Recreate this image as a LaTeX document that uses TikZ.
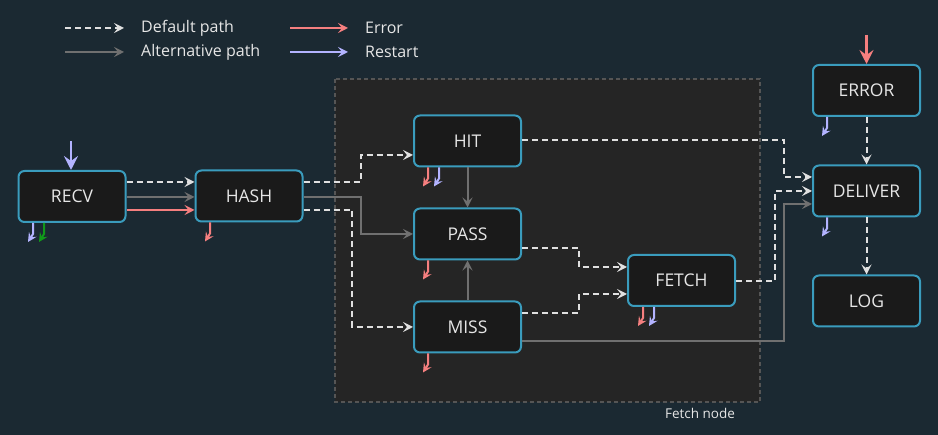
\documentclass[tikz,border=0pt]{standalone}
\usepackage{fontspec}
\setmainfont{Open Sans}
\usetikzlibrary{arrows.meta}
\definecolor{bg}{HTML}{1B2932}
\definecolor{clusterfill}{HTML}{252525}
\definecolor{clusterline}{HTML}{555555}
\definecolor{boxfill}{HTML}{1A1A1A}
\definecolor{boxline}{HTML}{3A9CBD}
\definecolor{txt}{HTML}{E6E6E6}
\definecolor{defc}{HTML}{E0E0E0}
\definecolor{altc}{HTML}{707070}
\definecolor{errc}{HTML}{F57F7F}
\definecolor{rstc}{HTML}{B3B3FF}
\definecolor{grnc}{HTML}{11991A}
\tikzset{
  box/.style={draw=boxline, line width=2pt, fill=boxfill, rounded corners=6pt,
    minimum width=107pt, minimum height=51pt, text=txt, font=\fontsize{17.5}{20}\selectfont},
  tip/.style={-{Stealth[length=10pt,width=10pt,inset=4pt]}},
  def/.style={tip, draw=defc, line width=2pt, dash pattern=on 6pt off 4pt},
  alt/.style={tip, draw=altc, line width=2pt},
  err/.style={tip, draw=errc, line width=2pt},
  rst/.style={tip, draw=rstc, line width=2pt},
  bigtip/.style={-{Stealth[length=14pt,width=14pt,inset=5pt]}, line width=2.6pt},
  stubtip/.style={-{Stealth[length=9pt,width=9pt,inset=3.5pt]}, line width=2pt},
  lbl/.style={text=txt, anchor=west, font=\fontsize{16}{18}\selectfont, inner sep=0pt},
}
\begin{document}
\begin{tikzpicture}[x=1pt, y=-1pt]
\fill[bg] (0,0) rectangle (938,435);
\useasboundingbox (0,0) rectangle (938,435);
% cluster
\draw[clusterline, fill=clusterfill, line width=1.3pt, dash pattern=on 4pt off 3pt] (335,79) rectangle (760,402);
\node[text=txt, font=\fontsize{13.5}{15}\selectfont, inner sep=0pt] (clabel) at (700,413) {Fetch node};
% legend
\coordinate (l1a) at (65,28); \coordinate (l1b) at (124,28);
\coordinate (l2a) at (65,52); \coordinate (l2b) at (124,52);
\coordinate (l3a) at (290,28); \coordinate (l3b) at (348,28);
\coordinate (l4a) at (290,52); \coordinate (l4b) at (348,52);
\draw[def] (l1a) -- (l1b);
\draw[alt] (l2a) -- (l2b);
\draw[err] (l3a) -- (l3b);
\draw[rst] (l4a) -- (l4b);
\node[lbl] (t1) at (141,28) {Default path};
\node[lbl] (t2) at (141,52) {Alternative path};
\node[lbl] (t3) at (365,28) {Error};
\node[lbl] (t4) at (365,52) {Restart};
% nodes
\node[box] (recv) at (72,196.5) {RECV};
\node[box] (hash) at (249,196) {HASH};
\node[box] (hit) at (467.5,141) {HIT};
\node[box] (pass) at (467.5,234) {PASS};
\node[box] (miss) at (467.5,327) {MISS};
\node[box] (fetch) at (681.5,280.5) {FETCH};
\node[box] (error) at (866.5,90.5) {ERROR};
\node[box] (deliver) at (866.5,191) {DELIVER};
\node[box] (log) at (866.5,301) {LOG};
% entry arrows
\coordinate (rin) at (71,141);
\coordinate (ein) at (866.5,35);
\draw[rstc, bigtip] (rin) -- (recv.north -| rin);
\draw[errc, bigtip] (ein) -- (error.north);
% RECV -> HASH
\draw[def] (recv.east |- 0,182) -- (hash.west |- 0,182);
\draw[alt] (recv.east |- 0,197) -- (hash.west |- 0,197);
\draw[err] (recv.east |- 0,210) -- (hash.west |- 0,210);
% HASH -> HIT/PASS/MISS
\draw[def] (hash.east |- 0,182) -- (361,182) -- (361,155) -- (hit.west |- 0,155);
\draw[alt] (hash.east |- 0,197) -- (361,197) -- (361,234) -- (pass.west);
\draw[def] (hash.east |- 0,210) -- (352,210) -- (352,327) -- (miss.west);
% HIT -> PASS, MISS -> PASS
\draw[alt] (hit.south) -- (pass.north);
\draw[alt] (miss.north) -- (pass.south);
% PASS/MISS -> FETCH
\draw[def] (pass.east |- 0,248) -- (579,248) -- (579,267) -- (fetch.west |- 0,267);
\draw[def] (miss.east |- 0,313) -- (579,313) -- (579,294) -- (fetch.west |- 0,294);
% -> DELIVER
\draw[def] (hit.east |- 0,140) -- (784,140) -- (784,177) -- (deliver.west |- 0,177);
\draw[def] (fetch.east |- 0,281) -- (775,281) -- (775,191) -- (deliver.west |- 0,191);
\draw[alt] (miss.east |- 0,341) -- (784,341) -- (784,204) -- (deliver.west |- 0,204);
\draw[def] (error.south) -- (deliver.north);
\draw[def] (deliver.south) -- (log.north);
% stubs
\draw[rstc, stubtip] (recv.south -| 33,0) -- ++(0,11) -- ++(-5,8);
\draw[grnc, stubtip] (recv.south -| 44,0) -- ++(0,11) -- ++(-5,8);
\draw[errc, stubtip] (hash.south -| 210,0) -- ++(0,11) -- ++(-5,8);
\draw[errc, stubtip] (hit.south -| 428,0) -- ++(0,11) -- ++(-5,8);
\draw[rstc, stubtip] (hit.south -| 439,0) -- ++(0,11) -- ++(-5,8);
\draw[errc, stubtip] (pass.south -| 428,0) -- ++(0,11) -- ++(-5,8);
\draw[errc, stubtip] (miss.south -| 428,0) -- ++(0,11) -- ++(-5,8);
\draw[errc, stubtip] (fetch.south -| 643,0) -- ++(0,11) -- ++(-5,8);
\draw[rstc, stubtip] (fetch.south -| 654,0) -- ++(0,11) -- ++(-5,8);
\draw[rstc, stubtip] (error.south -| 827,0) -- ++(0,11) -- ++(-5,8);
\draw[rstc, stubtip] (deliver.south -| 827,0) -- ++(0,11) -- ++(-5,8);
\end{tikzpicture}
\end{document}
